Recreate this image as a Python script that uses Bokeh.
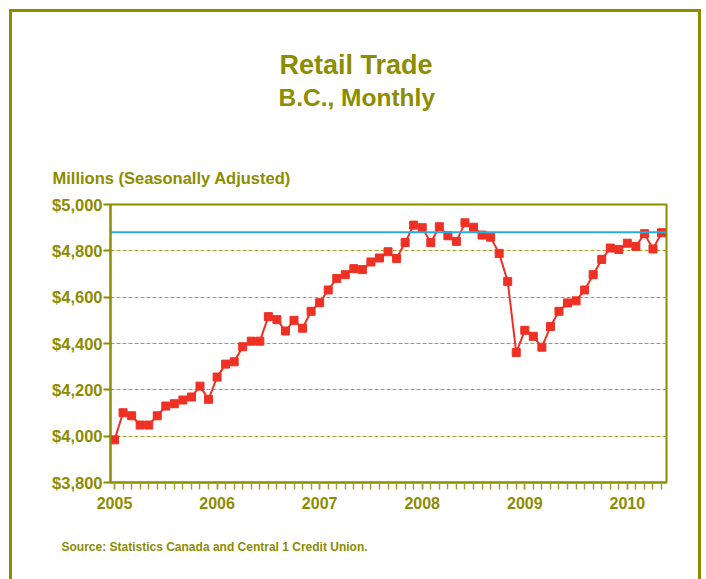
from bokeh.plotting import figure
from bokeh.models import (FixedTicker, NumeralTickFormatter, Span, Title,
                          Range1d, ColumnDataSource)
from bokeh.embed import file_html
from bokeh.resources import INLINE

# ---- data ----
years = ["2005", "2006", "2007", "2008", "2009", "2010"]
months = [f"{y}-{m:02d}" for y in range(2005, 2011) for m in range(1, 13)][:65]
sales = [
    3984, 4101, 4088, 4048, 4048, 4088, 4130, 4140, 4156, 4169, 4216, 4159,
    4255, 4311, 4321, 4386, 4410, 4410, 4516, 4503, 4454, 4500, 4466, 4539,
    4576, 4631, 4681, 4697, 4723, 4719, 4752, 4769, 4796, 4767, 4836, 4911,
    4900, 4836, 4904, 4865, 4841, 4921, 4902, 4868, 4859, 4789, 4668, 4361,
    4457, 4431, 4384, 4473, 4539, 4575, 4584, 4631, 4697, 4763, 4812, 4806,
    4833, 4819, 4874, 4808, 4878,
]
reference_level = 4880
y_ticks = [3800, 4000, 4200, 4400, 4600, 4800, 5000]

OLIVE = "#8C8C00"
GRID = "#A3A33A"
TICK = "#A0A038"
RED = "#EE3124"
BLUE = "#29ABE2"
FONT = "Liberation Sans"

idx = list(range(len(months)))
src = ColumnDataSource(dict(x=idx, y=sales, month=months))

p = figure(width=692, height=570, output_backend="svg", toolbar_location=None,
           x_range=Range1d(-0.47, 64.58), y_range=Range1d(3800, 5000),
           min_border_left=98, min_border_right=38,
           min_border_top=192, min_border_bottom=100)
p.styles = {"margin-left": "9px", "margin-top": "9px",
            "border-left": f"3px solid {OLIVE}",
            "border-top": f"3px solid {OLIVE}",
            "border-right": f"3px solid {OLIVE}"}
p.background_fill_color = "white"
p.border_fill_color = "white"
p.outline_line_color = OLIVE
p.outline_line_width = 2

# axes
p.xgrid.grid_line_color = None
p.ygrid.grid_line_color = GRID
p.ygrid.grid_line_dash = "4 2"
p.ygrid.grid_line_width = 1
p.ygrid.ticker = FixedTicker(ticks=y_ticks)

p.yaxis.ticker = FixedTicker(ticks=y_ticks)
p.yaxis.formatter = NumeralTickFormatter(format="$0,0")
p.yaxis.axis_line_color = OLIVE
p.yaxis.axis_line_width = 2
p.yaxis.major_tick_line_color = OLIVE
p.yaxis.major_tick_line_width = 2
p.yaxis.major_tick_out = 7
p.yaxis.major_tick_in = 0
p.yaxis.minor_tick_line_color = None
p.yaxis.major_label_standoff = 1
p.yaxis.major_label_text_font = FONT
p.yaxis.major_label_text_font_style = "bold"
p.yaxis.major_label_text_font_size = "16.5px"
p.yaxis.major_label_text_color = OLIVE

year_ticks = [12 * i for i in range(len(years))]
p.xaxis.ticker = FixedTicker(ticks=year_ticks, minor_ticks=idx)
p.xaxis.major_label_overrides = {t: y for t, y in zip(year_ticks, years)}
p.xaxis.axis_line_color = OLIVE
p.xaxis.axis_line_width = 2
p.xaxis.major_tick_line_color = TICK
p.xaxis.minor_tick_line_color = TICK
p.xaxis.major_tick_line_width = 1.5
p.xaxis.minor_tick_line_width = 1.5
p.xaxis.major_tick_out = 7
p.xaxis.minor_tick_out = 7
p.xaxis.major_tick_in = 0
p.xaxis.minor_tick_in = 0
p.xaxis.major_label_standoff = 7
p.xaxis.major_label_text_font = FONT
p.xaxis.major_label_text_font_style = "bold"
p.xaxis.major_label_text_font_size = "16px"
p.xaxis.major_label_text_color = OLIVE

# reference line
p.add_layout(Span(location=reference_level, dimension="width",
                  line_color=BLUE, line_width=2))

# data
p.line("x", "y", source=src, line_color=RED, line_width=2)
p.scatter("x", "y", source=src, marker="square", size=8,
          fill_color=RED, line_color=RED)

# texts (stacked outward from the frame)
def ttl(text, size, offset, standoff):
    return Title(text=text, align="left", offset=offset, standoff=standoff,
                 text_font=FONT, text_font_style="bold",
                 text_font_size=size, text_color=OLIVE)

p.add_layout(ttl("Millions (Seasonally Adjusted)", "16.5px", -58, 36), "above")
p.add_layout(ttl(" ", "10px", 0, 24), "above")   # spacer
p.add_layout(ttl("B.C., Monthly", "24.5px", 168, 2), "above")
p.add_layout(ttl("Retail Trade", "27px", 169, 2), "above")
p.add_layout(ttl("Source: Statistics Canada and Central 1 Credit Union.",
                 "12px", -49, 52), "below")

open("out.html", "w").write(file_html(p, INLINE))
